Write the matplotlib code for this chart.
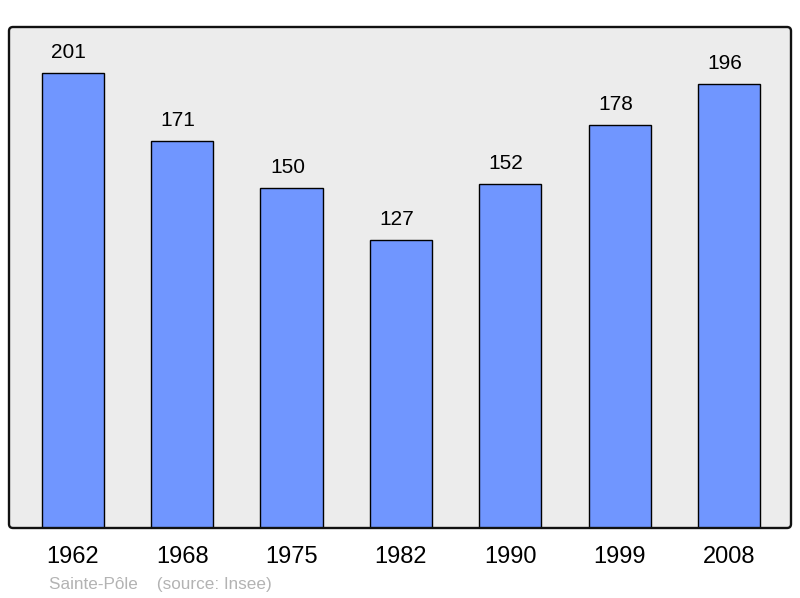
import matplotlib
matplotlib.use("Agg")
import matplotlib.pyplot as plt
from matplotlib.patches import FancyBboxPatch

years = ["1962", "1968", "1975", "1982", "1990", "1999", "2008"]
population = [201, 171, 150, 127, 152, 178, 196]

plt.rcParams['font.family'] = ['Liberation Sans', 'DejaVu Sans']

W, H = 800, 598
fig = plt.figure(figsize=(8.0, 5.98), dpi=100)
ax = fig.add_axes([9 / W, (H - 528) / H, 782 / W, 501 / H])
ax.set_facecolor('#ececec')

x = list(range(len(years)))
bars = ax.bar(x, population, width=0.57, color='#7096ff',
              edgecolor='black', linewidth=1.0, zorder=2)

for xi, v in zip(x, population):
    ax.annotate(str(v), (xi, v), xytext=(-3, 8), textcoords='offset points',
                ha='center', va='bottom', fontsize=15, color='black')

ax.set_xlim(-0.585, 6.567)
ax.set_ylim(0, 221.3)
ax.set_xticks(x)
ax.set_xticklabels(years, fontsize=17)
ax.tick_params(axis='x', length=0, pad=13)
ax.set_yticks([])
for s in ax.spines.values():
    s.set_visible(False)

# rounded frame around the plot area (in inches)
frame = FancyBboxPatch((9 / 100, (H - 528) / 100), 782 / 100, 501 / 100,
                       boxstyle="round,pad=0,rounding_size=0.04",
                       transform=fig.dpi_scale_trans, fill=False,
                       edgecolor='#111111', linewidth=1.7, zorder=5)
fig.patches.append(frame)

fig.text(49 / W, 1 - 585 / H, "Sainte-Pôle    (source: Insee)",
         fontsize=12.3, color='#b3b3b3', ha='left', va='center')

fig.savefig("out.png", dpi=100)
